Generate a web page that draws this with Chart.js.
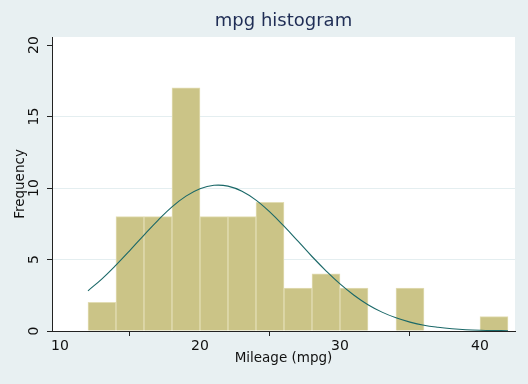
<!DOCTYPE html>
<html>
<head>
<meta charset="utf-8">
<script src="https://cdn.jsdelivr.net/npm/chart.js@4/dist/chart.umd.min.js"></script>
<style>
  html, body { margin: 0; padding: 0; background: #e8f0f2; }
  #wrap { width: 528px; height: 384px; }
</style>
</head>
<body>
<div id="wrap"><canvas id="chart"></canvas></div>
<script>
// bin centres (width 2) and counts
const binCenters = [13, 15, 17, 19, 21, 23, 25, 27, 29, 31, 33, 35, 37, 39, 41];
const binCounts  = [2, 8, 8, 17, 8, 8, 9, 3, 4, 3, 0, 3, 0, 0, 1];

// normal density overlay (frequency scale)
const curveX = [12, 13, 14, 15, 16, 17, 18, 19, 20, 21, 22, 23, 24, 25, 26, 27,
                28, 29, 30, 31, 32, 33, 34, 35, 36, 37, 38, 39, 40, 41, 42];
const curveY = [2.81, 3.65, 4.61, 5.64, 6.71, 7.74, 8.68, 9.43, 9.95, 10.19, 10.13, 9.77,
                9.15, 8.31, 7.33, 6.28, 5.21, 4.21, 3.29, 2.50, 1.84, 1.32, 0.92, 0.62,
                0.40, 0.26, 0.16, 0.09, 0.05, 0.03, 0.02];

const xTicks = [10, 20, 30, 40];
const yTicks = [0, 5, 10, 15, 20];

const font = "'DejaVu Sans', sans-serif";

const plotBg = {
  id: "plotBg",
  beforeDraw(chart) {
    const { ctx, chartArea: a } = chart;
    ctx.save();
    ctx.fillStyle = "#ffffff";
    ctx.fillRect(a.left, a.top, a.right - a.left, a.bottom - a.top);
    ctx.restore();
  }
};

new Chart(document.getElementById("chart"), {
  type: "bar",
  data: {
    datasets: [
      {
        type: "line",
        data: curveX.map((x, i) => ({ x: x, y: curveY[i] })),
        borderColor: "#1a6868",
        borderWidth: 1.1,
        pointRadius: 0,
        tension: 0.4,
        fill: false,
        order: 0
      },
      {
        data: binCenters.map((x, i) => ({ x: x, y: binCounts[i] })),
        backgroundColor: "#cbc487",
        borderColor: "#e2ddb4",
        borderWidth: 1,
        barPercentage: 1,
        categoryPercentage: 1,
        order: 1
      }
    ]
  },
  options: {
    responsive: true,
    maintainAspectRatio: false,
    animation: false,
    layout: { padding: { left: 0, right: 13, top: 0, bottom: 0 } },
    plugins: {
      legend: { display: false },
      tooltip: { enabled: false },
      title: {
        display: true,
        text: "mpg histogram",
        fullSize: false,
        color: "#1f2d55",
        font: { family: font, size: 18, weight: "normal" },
        padding: { top: 11, bottom: 4.4 }
      }
    },
    scales: {
      x: {
        type: "linear",
        offset: false,
        min: 9.43,
        max: 42.5,
        afterBuildTicks: s => { s.ticks = xTicks.map(v => ({ value: v })); },
        afterFit: s => { s.height = 53; },
        grid: { color: "transparent", drawTicks: true, tickLength: 5, tickColor: "#222" },
        border: { color: "#222", width: 1 },
        ticks: { color: "#111", font: { family: font, size: 14 }, padding: 2, maxRotation: 0 },
        title: {
          display: true, text: "Mileage (mpg)", color: "#111",
          font: { family: font, size: 13.5 }, padding: { top: 0, bottom: 17 }
        }
      },
      y: {
        min: 0,
        max: 20.56,
        afterBuildTicks: s => { s.ticks = yTicks.map(v => ({ value: v })); },
        afterFit: s => { s.width = 52; },
        grid: {
          color: c => (c.tick && c.tick.value > 0 && c.tick.value < 20) ? "#e4eef0" : "transparent",
          tickLength: 5,
          tickColor: "#222"
        },
        border: { color: "#222", width: 1 },
        ticks: {
          color: "#111", font: { family: font, size: 14 },
          minRotation: 90, maxRotation: 90, padding: 4, crossAlign: "center"
        },
        title: {
          display: true, text: "Frequency", color: "#111",
          font: { family: font, size: 13.5 }, padding: { top: 12, bottom: 0 }
        }
      }
    }
  },
  plugins: [plotBg]
});
</script>
</body>
</html>
